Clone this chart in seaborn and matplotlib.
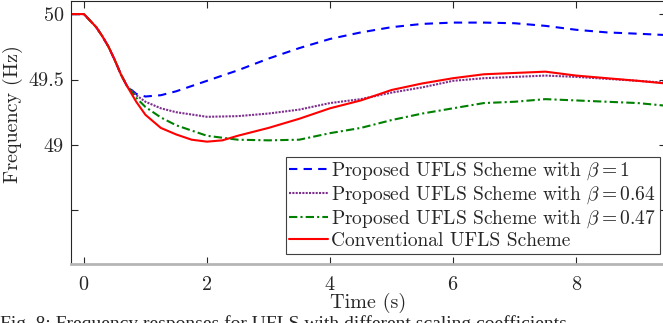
import matplotlib
matplotlib.use("Agg")
import matplotlib.pyplot as plt
import numpy as np
import pandas as pd
import seaborn as sns

sns.set_style("ticks")
plt.rcParams.update({
    "font.family": ["cmr10", "DejaVu Serif"],
    "mathtext.fontset": "cm",
    "axes.formatter.use_mathtext": True,
    "xtick.direction": "in",
    "ytick.direction": "in",
    "xtick.top": True,
    "ytick.right": True,
})

# values (time in s, frequency in Hz)
t_conv = [-0.2, 0.0, 0.1, 0.2, 0.3, 0.4, 0.5, 0.6, 0.7, 0.85, 1.0, 1.25, 1.5, 1.75, 2.0,
          2.25, 2.5, 3.0, 3.5, 4.0, 4.5, 5.0, 5.5, 6.0, 6.5, 7.0, 7.5, 8.0, 8.5, 9.0, 9.45]
f_conv = [50.0, 50.0, 49.95, 49.9, 49.83, 49.75, 49.65, 49.54, 49.45, 49.33, 49.23, 49.13,
          49.08, 49.04, 49.025, 49.035, 49.07, 49.13, 49.2, 49.28, 49.34, 49.42, 49.47,
          49.51, 49.54, 49.55, 49.56, 49.53, 49.51, 49.49, 49.47]

t_prop = [0.7, 0.85, 1.0, 1.25, 1.5, 2.0, 2.5, 3.0, 3.5, 4.0, 4.5, 5.0, 5.5, 6.0, 6.5,
          7.0, 7.5, 8.0, 8.5, 9.0, 9.45]
f_beta1 = [49.45, 49.39, 49.37, 49.38, 49.41, 49.49, 49.57, 49.66, 49.74, 49.81, 49.86,
           49.9, 49.925, 49.935, 49.935, 49.93, 49.91, 49.88, 49.86, 49.85, 49.84]
f_beta064 = [49.45, 49.38, 49.33, 49.28, 49.25, 49.215, 49.22, 49.24, 49.27, 49.32, 49.35,
             49.4, 49.44, 49.49, 49.51, 49.52, 49.53, 49.52, 49.505, 49.49, 49.475]
f_beta047 = [49.45, 49.36, 49.29, 49.21, 49.15, 49.07, 49.04, 49.035, 49.04, 49.09, 49.13,
             49.19, 49.24, 49.28, 49.32, 49.33, 49.35, 49.34, 49.33, 49.32, 49.3]

x_ticks = [0, 2, 4, 6, 8]
y_ticks = [48.5, 49, 49.5, 50]
y_ticklabels = ["", "49", "49.5", "50"]

labels = [
    r"Proposed UFLS Scheme with $\beta = 1$",
    r"Proposed UFLS Scheme with $\beta = 0.64$",
    r"Proposed UFLS Scheme with $\beta = 0.47$",
    "Conventional UFLS Scheme",
]

# proposed schemes share the conventional trace before load shedding diverges
pre_t = t_conv[:8]
pre_f = f_conv[:8]

fig = plt.figure(figsize=(6.63, 3.23), dpi=100)
ax = fig.add_axes([71 / 663, 1 - 264 / 323, (666 - 71) / 663, 263 / 323])

series = [
    (pre_t + t_prop, pre_f + f_beta1, "#0000FF", (0, (4, 3)), labels[0]),
    (pre_t + t_prop, pre_f + f_beta064, "#7E2F8E", (0, (1, 0.6)), labels[1]),
    (pre_t + t_prop, pre_f + f_beta047, "#008000", (0, (4, 1.5, 1, 1.5)), labels[2]),
    (t_conv, f_conv, "#FF0000", "-", labels[3]),
]
for t, f, color, ls, lab in series:
    sns.lineplot(x=t, y=f, ax=ax, color=color, linestyle=ls, linewidth=1.5,
                 label=lab, sort=False)

ax.set_xlim(-0.21, 9.46)
ax.set_ylim(48.09, 50.1)
ax.set_xticks(x_ticks)
ax.set_yticks(y_ticks)
ax.set_yticklabels(y_ticklabels)
ax.tick_params(labelsize=14.5, length=5, width=0.8)
ax.tick_params(axis="x", pad=9)
ax.tick_params(axis="y", pad=5)
ax.set_xlabel("Time (s)", fontsize=14.5, labelpad=-1)
ax.set_ylabel("Frequency (Hz)", fontsize=14.5)
ax.yaxis.set_label_coords(-0.08, 0.57)

for side in ["top", "left", "right"]:
    ax.spines[side].set_linewidth(0.8)
ax.spines["bottom"].set_color("#b5b5b5")
ax.spines["bottom"].set_linewidth(2)

leg = ax.legend(loc="lower right", bbox_to_anchor=(1 - 6 / 595, 10 / 263), fontsize=14,
                frameon=True, fancybox=False, edgecolor="#404040", framealpha=1,
                handlelength=2.0, handletextpad=0.15, labelspacing=0.12,
                borderpad=0.2, borderaxespad=0)
leg.get_frame().set_linewidth(0.8)

fig.text(0.0, -0.03, "Fig. 8: Frequency responses for UFLS with different scaling coefficients",
         family="Liberation Serif", fontsize=14, ha="left", va="bottom")

fig.savefig("out.png", dpi=100)
